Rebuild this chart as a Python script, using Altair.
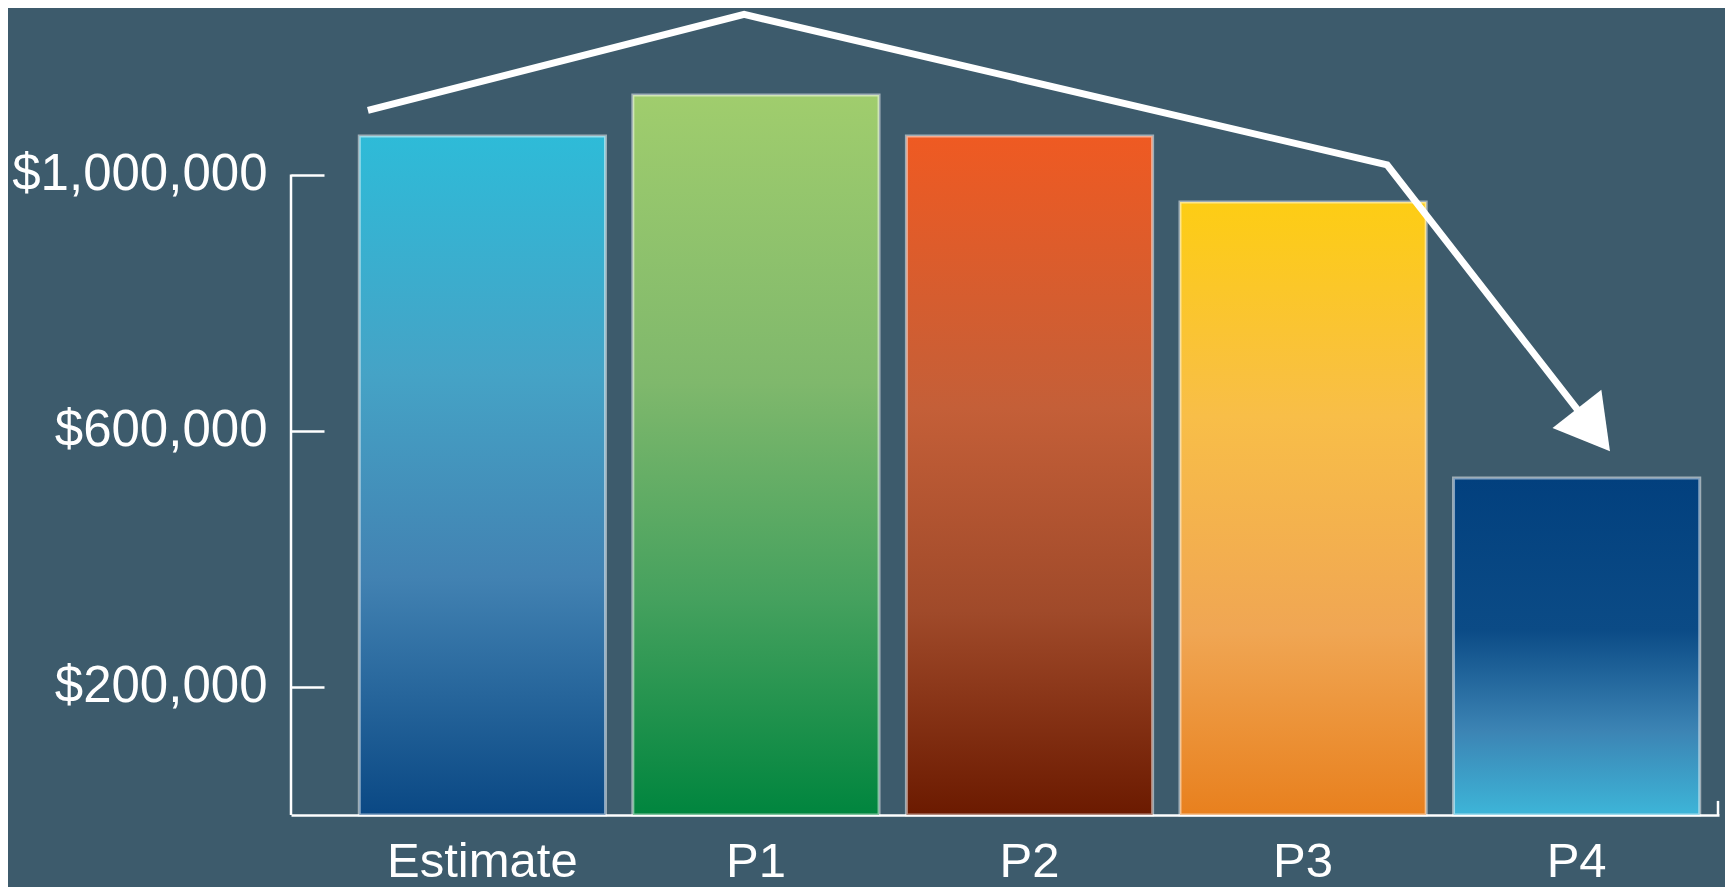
import altair as alt
import pandas as pd

# ---- data ----
categories = ["Estimate", "P1", "P2", "P3", "P4"]
values = [1060000, 1124000, 1060000, 957000, 526000]
y_ticks = [200000, 600000, 1000000]

# decorative trend arrow (x in category-index units, y in dollars)
arrow_pos = [-0.417, 0.958, 3.308, 4.042]
arrow_val = [1100000, 1250000, 1015000, 612000]

# ---- styles ----
bar_stops = {
    "Estimate": [(0.0, "#2ebbd8"), (0.35, "#45a3c6"), (0.65, "#4282b2"), (1.0, "#0a4884")],
    "P1": [(0.0, "#a0cd6d"), (0.4, "#7fb86c"), (0.7, "#45a15e"), (1.0, "#00853e")],
    "P2": [(0.0, "#ef5a22"), (0.4, "#c45f38"), (0.7, "#a04a2a"), (1.0, "#6b1a00")],
    "P3": [(0.0, "#fdcd14"), (0.35, "#f8be48"), (0.7, "#f0a653"), (1.0, "#e8801e")],
    "P4": [(0.0, "#02407e"), (0.45, "#0b4b86"), (0.75, "#3c84b4"), (1.0, "#3db5d8")],
}

W, H = 1428, 807
Y_MAX = 1260000
FONT = "Liberation Sans"

df = pd.DataFrame({"cat": categories, "value": values})
arrow_df = pd.DataFrame({"u": arrow_pos, "v": arrow_val})

y_scale = alt.Scale(domain=[0, Y_MAX], nice=False, zero=True)
x_scale = alt.Scale(domain=categories, paddingInner=0.1, paddingOuter=0.16, align=0.78)

x_axis = alt.Axis(
    title=None, labelAngle=0, ticks=False, tickSize=0, domain=True,
    domainColor="white", domainWidth=2.5, labelColor="white",
    labelFont=FONT, labelFontSize=49, labelPadding=22, labelLimit=0,
    grid=False,
)
y_axis = alt.Axis(
    title=None, values=y_ticks, format="$,.0f", orient="left", offset=-33,
    tickSize=33, tickColor="white", tickWidth=2.5, domain=False,
    labelColor="white", labelFont=FONT, labelFontSize=51, labelPadding=24,
    labelLimit=0, grid=False,
)


def gradient(stops):
    return alt.LinearGradient(
        gradient="linear", x1=0, x2=0, y1=0, y2=1,
        stops=[alt.GradientStop(offset=o, color=c) for o, c in stops],
    )


layers = []
for i, cat in enumerate(categories):
    layer = (
        alt.Chart(df)
        .transform_filter(alt.datum.cat == cat)
        .mark_bar(
            color=gradient(bar_stops[cat]),
            stroke="white", strokeOpacity=0.5, strokeWidth=3,
        )
        .encode(
            x=alt.X("cat:N", scale=x_scale, sort=categories,
                    axis=x_axis if i == 0 else None),
            y=alt.Y("value:Q", scale=y_scale, axis=y_axis),
        )
    )
    layers.append(layer)

# y-axis line from 0 up to the top tick
axis_line = (
    alt.Chart(pd.DataFrame({"k": [0]}))
    .mark_rule(color="white", strokeWidth=2.5)
    .encode(
        x=alt.value(0),
        y=alt.YDatum(0, type="quantitative", scale=y_scale, axis=y_axis),
        y2=alt.Y2Datum(y_ticks[-1]),
    )
)

# small end tick of the x axis
end_tick = (
    alt.Chart(pd.DataFrame({"k": [0]}))
    .mark_rule(color="white", strokeWidth=2.5)
    .encode(
        x=alt.value(W - 1),
        y=alt.YDatum(0, type="quantitative", scale=y_scale, axis=y_axis),
        y2=alt.Y2Datum(22000),
    )
)

u_scale = alt.Scale(domain=[-0.698, 4.521], nice=False, zero=False)

arrow_line = (
    alt.Chart(arrow_df)
    .mark_line(color="white", strokeWidth=7, strokeJoin="miter", strokeCap="butt")
    .encode(
        x=alt.X("u:Q", scale=u_scale, axis=None),
        y=alt.Y("v:Q", scale=y_scale, axis=y_axis),
    )
)

arrow_head = (
    alt.Chart(arrow_df.tail(1))
    .mark_point(
        shape="M0,-1L0.866,0.5L-0.866,0.5Z", size=5126, angle=142,
        filled=True, color="white", opacity=1, strokeWidth=0,
    )
    .encode(
        x=alt.X("u:Q", scale=u_scale, axis=None),
        y=alt.Y("v:Q", scale=y_scale, axis=y_axis),
    )
)

chart = (
    alt.layer(*layers, axis_line, end_tick, arrow_line, arrow_head)
    .resolve_scale(x="independent")
    .properties(
        width=W, height=H,
        autosize=alt.AutoSizeParams(type="none"),
        padding={"left": 283, "top": 0, "right": 6, "bottom": 72},
        background="#3d5b6c",
    )
    .configure_view(stroke=None)
)

chart.save("out.html", embed_options={"renderer": "svg", "actions": False})
